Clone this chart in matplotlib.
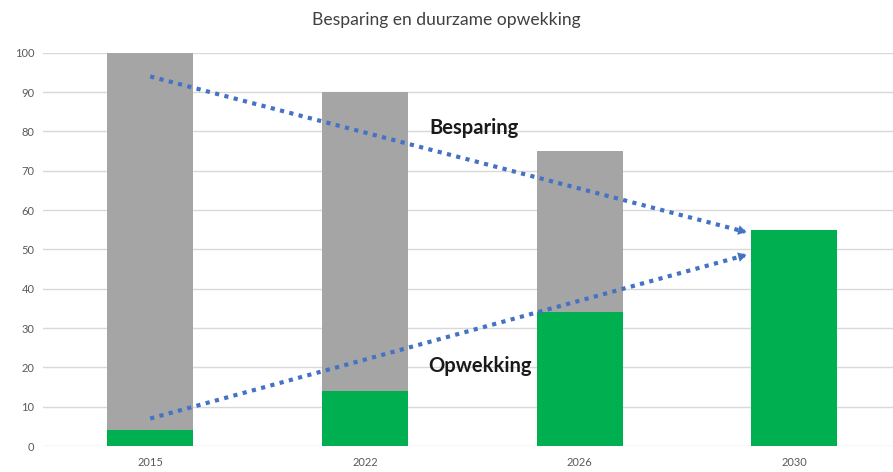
import numpy as np
import matplotlib.pyplot as plt

plt.rcParams['font.family'] = ['Lato', 'DejaVu Sans']

years = ["2015", "2022", "2026", "2030"]
opwekking = [4, 14, 34, 55]
besparing = [96, 76, 41, 0]  # grijs deel bovenop

# pijlen: (x_start, y_start, x_eind, y_eind) in data-coördinaten
pijl_besparing = (0.0, 94, 2.77, 54.5)
pijl_opwekking = (0.0, 7, 2.77, 48.5)

fig = plt.figure(figsize=(8.93, 4.72), dpi=100)
ax = fig.add_axes([0.048, 0.055, 0.952, 0.833])

x = np.arange(len(years))
ax.bar(x, opwekking, width=0.4, color="#00b050", zorder=2)
ax.bar(x, besparing, width=0.4, bottom=opwekking, color="#a5a5a5", zorder=2)

blue = "#4472c4"
for x0, y0, x1, y1 in (pijl_besparing, pijl_opwekking):
    ax.plot([x0, x1], [y0, y1], color=blue, lw=3, ls=(0, (1, 1.3)), zorder=3,
            solid_capstyle="butt", dash_capstyle="butt")
    dx, dy = x1 - x0, y1 - y0
    ax.annotate("", xy=(x1 + 0.02, y1 + 0.02 * dy / dx), xytext=(x1 - 0.03, y1 - 0.03 * dy / dx),
                arrowprops=dict(arrowstyle="-|>,head_length=0.6,head_width=0.35",
                                color=blue, lw=0), zorder=3)

ax.text(1.51, 81, "Besparing", fontsize=14.5, fontweight="bold", ha="center", va="center",
        color="#1a1a1a", zorder=4)
ax.text(1.535, 20.4, "Opwekking", fontsize=14.5, fontweight="bold", ha="center", va="center",
        color="#1a1a1a", zorder=4)

ax.set_xlim(-0.5, 3.46)
ax.set_ylim(0, 100)
ax.set_yticks(range(0, 101, 10))
ax.set_xticks(x)
ax.set_xticklabels(years)
ax.grid(axis="y", color="#d9d9d9", lw=1, zorder=0)
for s in ax.spines.values():
    s.set_visible(False)
ax.tick_params(length=0, labelsize=8, colors="#595959", pad=6)
ax.tick_params(axis="x", pad=8)

fig.text(0.5, 0.957, "Besparing en duurzame opwekking", ha="center", va="center",
         fontsize=12.6, color="#404040")

plt.savefig("out.png", dpi=100)
